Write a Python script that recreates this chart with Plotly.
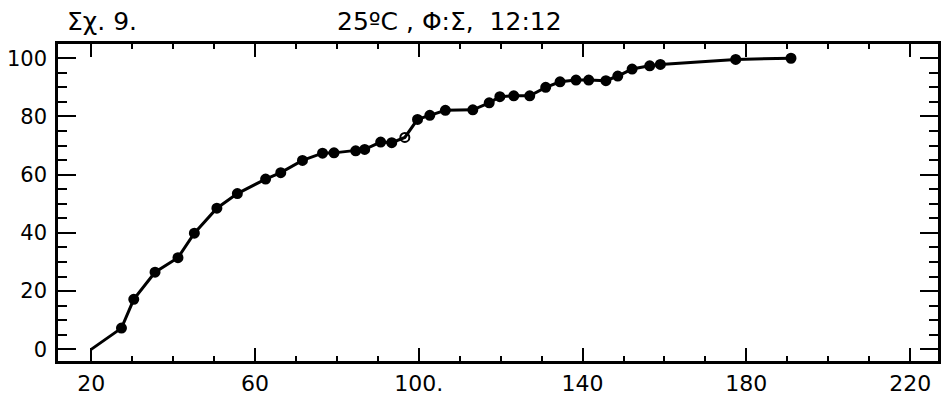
import plotly.graph_objects as go

# Data (cumulative %, vs. days)
days = [20, 27.4, 30.4, 35.6, 41.2, 45.2, 50.7, 55.7, 62.6, 66.3, 71.6, 76.5, 79.3,
        84.6, 86.8, 90.7, 93.4, 96.6, 99.7, 102.7, 106.5, 113.2, 117.2, 119.8,
        123.2, 127.1, 131.0, 134.5, 138.4, 141.5, 145.7, 148.6, 152.1, 156.4,
        159.0, 177.4, 190.9]
percent = [0, 7.3, 17.2, 26.5, 31.5, 39.9, 48.5, 53.5, 58.5, 60.7, 64.9, 67.4, 67.5,
           68.2, 68.7, 71.2, 71.0, 72.8, 79.0, 80.4, 82.1, 82.3, 84.7, 86.8,
           87.1, 87.1, 90.0, 91.9, 92.5, 92.5, 92.3, 93.9, 96.3, 97.4,
           97.9, 99.6, 100.0]

x_tickvals = [20, 60, 100, 140, 180, 220]
x_ticktext = ["20", "60", "100.", "140", "180", "220"]
y_tickvals = [0, 20, 40, 60, 80, 100]
y_ticktext = ["0", "20", "40", "60", "80", "100"]

fig_title_left = "Σχ. 9."
fig_title_right = "25ºC , Φ:Σ,  12:12"

sizes = [0] + [9] * (len(days) - 1)
symbols = ["circle"] * len(days)
symbols[17] = "circle-open"

fig = go.Figure()
fig.add_trace(go.Scatter(
    x=days, y=percent, mode="lines+markers",
    line=dict(color="black", width=3),
    marker=dict(color="black", size=sizes, symbol=symbols, opacity=1,
                line=dict(color="black", width=2)),
    showlegend=False, hoverinfo="skip",
))

font_family = "DejaVu Sans"
fig.update_layout(
    width=941, height=402,
    margin=dict(l=58, r=3, t=44, b=41, autoexpand=False),
    paper_bgcolor="white", plot_bgcolor="white",
    font=dict(family=font_family, color="black", size=21),
    xaxis=dict(
        range=[11.9, 226.8], tickvals=x_tickvals, ticktext=x_ticktext,
        ticks="inside", ticklen=13, tickwidth=2, tickcolor="black",
        showline=True, linewidth=2.5, linecolor="black", mirror="allticks",
        showgrid=False, zeroline=False, ticklabelstandoff=1, automargin=False,
        tickfont=dict(size=22),
        minor=dict(ticks="inside", ticklen=5, tickwidth=1.5, dtick=10, tick0=0,
                   tickcolor="black", showgrid=False),
    ),
    yaxis=dict(
        range=[-4.0, 104.9], tickvals=y_tickvals, ticktext=y_ticktext,
        ticks="inside", ticklen=18, tickwidth=2, tickcolor="black",
        showline=True, linewidth=2.5, linecolor="black", mirror="allticks",
        showgrid=False, zeroline=False, ticklabelstandoff=4, automargin=False,
        tickfont=dict(size=21),
        minor=dict(ticks="inside", ticklen=9, tickwidth=1.5, dtick=5, tick0=0,
                   tickcolor="black", showgrid=False),
    ),
    annotations=[
        dict(text=fig_title_left, xref="paper", yref="paper", x=0.008, y=1.07,
             xanchor="left", yanchor="middle", showarrow=False,
             font=dict(size=25, family=font_family)),
        dict(text=fig_title_right, xref="paper", yref="paper", x=0.315, y=1.07,
             xanchor="left", yanchor="middle", showarrow=False,
             font=dict(size=25, family=font_family)),
    ],
)

fig.write_html(
    "out.html",
    config={"displayModeBar": False},
    post_script="document.body.style.margin='0px';document.body.style.overflow='hidden';",
)
